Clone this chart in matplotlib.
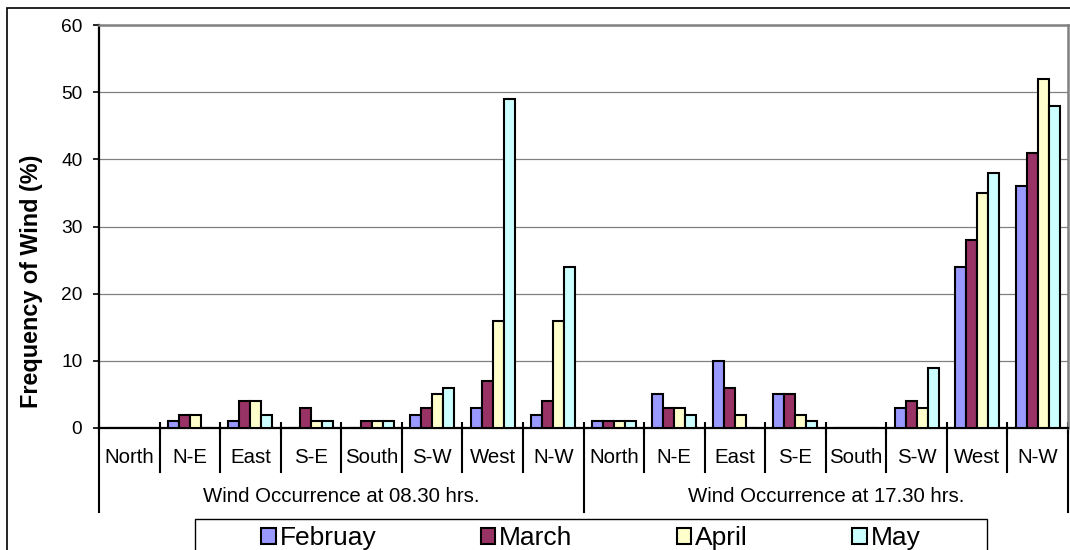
import matplotlib.pyplot as plt
import matplotlib.patches as mpatches
import numpy as np

plt.rcParams['font.family'] = ['Liberation Sans', 'DejaVu Sans']

directions = ["North", "N-E", "East", "S-E", "South", "S-W", "West", "N-W"]
groups = ["Wind Occurrence at 08.30 hrs.", "Wind Occurrence at 17.30 hrs."]
months = ["Februay", "March", "April", "May"]
colors = ["#9999FF", "#993366", "#FFFFCC", "#CCFFFF"]

# 08.30 hrs. then 17.30 hrs.
feb = [0, 1, 1, 0, 0, 2, 3, 2,   1, 5, 10, 5, 0, 3, 24, 36]
mar = [0, 2, 4, 3, 1, 3, 7, 4,   1, 3, 6, 5, 0, 4, 28, 41]
apr = [0, 2, 4, 1, 1, 5, 16, 16,  1, 3, 2, 2, 0, 3, 35, 52]
may = [0, 0, 2, 1, 1, 6, 49, 24,  1, 2, 0, 1, 0, 9, 38, 48]

series = [feb, mar, apr, may]
labels = directions * len(groups)
n = len(labels)
x = np.arange(n)
w = 1 / 5.5

fig = plt.figure(figsize=(10.7, 5.5), dpi=100)
ax = fig.add_axes([99 / 1070, 1 - 428 / 550, 969 / 1070, 403 / 550])

for i, (name, vals) in enumerate(zip(months, series)):
    ax.bar(x + (i - 1.5) * w, vals, width=w, color=colors[i], edgecolor="black",
           linewidth=1.5, label=name, zorder=3)

ax.set_xlim(-0.5, n - 0.5)
ax.set_ylim(0, 60)
ax.set_yticks(range(0, 61, 10))
ax.yaxis.grid(True, color="#808080", linewidth=0.9, zorder=0)
ax.tick_params(axis="y", direction="out", length=4, width=1.2, pad=8, labelsize=13.8)

# category boundaries as ticks poking up from the axis
bounds = np.arange(n + 1) - 0.5
ax.set_xticks(bounds)
ax.set_xticklabels([])
ax.tick_params(axis="x", direction="inout", length=8, width=1.5)

ax.spines["left"].set_linewidth(1.6)
ax.spines["bottom"].set_linewidth(1.6)
ax.spines["top"].set_color("#808080")
ax.spines["right"].set_color("#808080")
ax.spines["top"].set_linewidth(1.8)
ax.spines["right"].set_linewidth(1.8)

ax.set_ylabel("Frequency of Wind (%)", fontsize=16.8, fontweight="bold")
ax.yaxis.set_label_coords(-0.058, 0.365)

# two-level category axis
trans = ax.get_xaxis_transform()
for b in bounds:
    is_group = (b + 0.5) % len(directions) == 0
    y_end = -0.208 if is_group else -0.109
    ax.plot([b, b], [0, y_end], color="black", linewidth=1.5, transform=trans,
            clip_on=False)
for xi, lab in zip(x, labels):
    ax.text(xi, -0.074, lab, transform=trans, ha="center", va="center", fontsize=14.7)
for gi, g in enumerate(groups):
    xc = gi * len(directions) + (len(directions) - 1) / 2
    ax.text(xc, -0.169, g, transform=trans, ha="center", va="center", fontsize=14.7)

# legend box and entries
fig.patches.append(mpatches.Rectangle((195 / 1070, -0.05), (987 - 195) / 1070,
                                      0.05 + 1 - 519 / 550, transform=fig.transFigure,
                                      facecolor="white", edgecolor="black",
                                      linewidth=1.0))
fig.legend(loc="center", bbox_to_anchor=(591 / 1070, 1 - 538 / 550), ncol=4,
           frameon=False, fontsize=19, handlelength=0.55, handleheight=0.55,
           handletextpad=0.15, columnspacing=3.95, borderpad=0)

# outer chart border
fig.patches.append(mpatches.Rectangle((7 / 1070, -0.05), 1.1, 0.05 + 1 - 8 / 550,
                                      transform=fig.transFigure, fill=False,
                                      edgecolor="black", linewidth=1.2))

fig.savefig("out.png", dpi=100)
